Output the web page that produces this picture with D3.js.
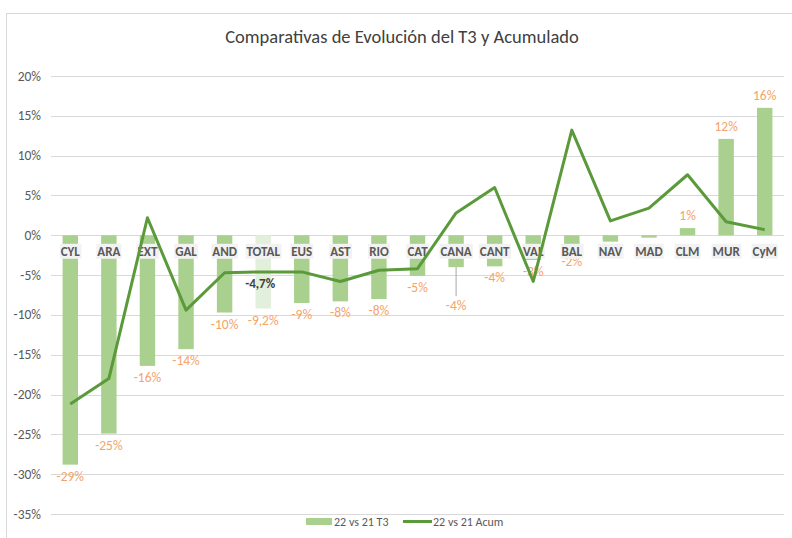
<!DOCTYPE html>
<html>
<head>
<meta charset="UTF-8">
<style>
    body { margin: 0; background: #fff; }
    text { font-family: Calibri, Carlito, Lato, "Open Sans", sans-serif; }
</style>
</head>
<body>
<svg></svg>
<script src="https://d3js.org/d3.v7.min.js"></script>
<script>

    let width = 792, height = 538;

    // data
    const regions = ["CYL", "ARA", "EXT", "GAL", "AND", "TOTAL", "EUS", "AST", "RIO", "CAT",
        "CANA", "CANT", "VAL", "BAL", "NAV", "MAD", "CLM", "MUR", "CyM"];
    const t3 = [-28.8, -24.9, -16.4, -14.3, -9.7, -9.2, -8.5, -8.3, -8.0, -5.1,
        -4.0, -3.9, -3.1, -1.8, -0.8, -0.3, 0.9, 12.1, 16.0];
    const t3Labels = ["-29%", "-25%", "-16%", "-14%", "-10%", "-9,2%", "-9%", "-8%", "-8%", "-5%",
        "-4%", "-4%", "-3%", "-2%", "-1%", "", "1%", "12%", "16%"];
    const acum = [-21.2, -18.0, 2.2, -9.4, -4.7, -4.6, -4.6, -5.8, -4.4, -4.2,
        2.8, 6.0, -5.8, 13.2, 1.8, 3.4, 7.6, 1.7, 0.7];
    const yTicks = [20, 15, 10, 5, 0, -5, -10, -15, -20, -25, -30, -35];

    let svg = d3.select("svg")
        .attr("width", width)
        .attr("height", height);

    // chart frame
    svg.append("rect")
        .attr("x", 6.5).attr("y", 13.5)
        .attr("width", 800).attr("height", 600)
        .attr("fill", "none")
        .attr("stroke", "#d9d9d9");

    svg.append("text")
        .attr("x", 402).attr("y", 43)
        .attr("text-anchor", "middle")
        .attr("font-size", 18.5)
        .attr("fill", "#404040")
        .text("Comparativas de Evolución del T3 y Acumulado");

    let x = d3.scaleBand().domain(regions).range([51, 784]).paddingInner(0.6).paddingOuter(0.3);
    let y = d3.scaleLinear().domain([-35, 20]).range([514, 76]);

    // gridlines
    svg.append("g")
        .selectAll("line")
        .data(yTicks)
        .join("line")
        .attr("x1", 51).attr("x2", 784)
        .attr("y1", d => Math.round(y(d)) + 0.5)
        .attr("y2", d => Math.round(y(d)) + 0.5)
        .attr("stroke", "#d9d9d9")
        .attr("stroke-width", 1);

    svg.append("g")
        .selectAll("text")
        .data(yTicks)
        .join("text")
        .attr("x", 41)
        .attr("y", d => y(d) + 4.5)
        .attr("text-anchor", "end")
        .attr("font-size", 13.5)
        .attr("fill", "#595959")
        .text(d => d + "%");

    // bars
    svg.append("g")
        .selectAll("rect")
        .data(regions)
        .join("rect")
        .attr("x", d => x(d))
        .attr("width", x.bandwidth())
        .attr("y", (d, i) => y(Math.max(0, t3[i])))
        .attr("height", (d, i) => Math.abs(y(t3[i]) - y(0)))
        .attr("fill", d => d == "TOTAL" ? "#e2efda" : "#a9d08e");

    // bar labels
    let cx = d => x(d) + x.bandwidth() / 2;
    svg.append("g")
        .selectAll("text")
        .data(regions)
        .join("text")
        .attr("x", d => cx(d))
        .attr("y", (d, i) => {
            if (d == "CANA") return y(t3[i]) + 43;
            return t3[i] < 0 ? y(t3[i]) + 16 : y(t3[i]) - 8;
        })
        .attr("text-anchor", "middle")
        .attr("font-size", 13.5)
        .attr("fill", "#f4a46b")
        .text((d, i) => t3Labels[i]);

    // leader line for CANA
    let ic = regions.indexOf("CANA");
    svg.append("line")
        .attr("x1", cx("CANA")).attr("x2", cx("CANA"))
        .attr("y1", y(t3[ic])).attr("y2", y(t3[ic]) + 29)
        .attr("stroke", "#a6a6a6");

    // category labels with light boxes
    let cat = svg.append("g")
        .selectAll("g")
        .data(regions)
        .join("g")
        .attr("transform", d => `translate(${cx(d)},${y(0) + 16})`);
    cat.append("text")
        .attr("text-anchor", "middle")
        .attr("y", 4.5)
        .attr("font-size", 13)
        .attr("font-weight", "bold")
        .attr("fill", "#595959")
        .text(d => d)
        .each(function () {
            let b = this.getBBox();
            d3.select(this.parentNode).insert("rect", "text")
                .attr("x", b.x - 1).attr("y", b.y)
                .attr("width", b.width + 2).attr("height", b.height)
                .attr("fill", "#f2f2f2");
        });

    // accumulated line
    svg.append("path")
        .datum(acum)
        .attr("fill", "none")
        .attr("stroke", "#5b9a3a")
        .attr("stroke-width", 3)
        .attr("stroke-linejoin", "round")
        .attr("d", d3.line().x((d, i) => cx(regions[i])).y(d => y(d)));

    let it = regions.indexOf("TOTAL");
    svg.append("text")
        .attr("x", cx("TOTAL") - 3)
        .attr("y", y(acum[it]) + 16)
        .attr("text-anchor", "middle")
        .attr("font-size", 13)
        .attr("font-weight", "bold")
        .attr("fill", "#404040")
        .text("-4,7%");

    // legend
    let lg = svg.append("g").attr("transform", "translate(306,521)");
    lg.append("rect").attr("x", 0).attr("y", -3).attr("width", 26).attr("height", 7).attr("fill", "#a9d08e");
    lg.append("text").attr("x", 28).attr("y", 4.5).attr("font-size", 12).attr("fill", "#595959").text("22 vs 21 T3");
    lg.append("line").attr("x1", 97).attr("x2", 126).attr("y1", 0.5).attr("y2", 0.5)
        .attr("stroke", "#5b9a3a").attr("stroke-width", 3);
    lg.append("text").attr("x", 127).attr("y", 4.5).attr("font-size", 12).attr("fill", "#595959").text("22 vs 21 Acum");

</script>
</body>
</html>
